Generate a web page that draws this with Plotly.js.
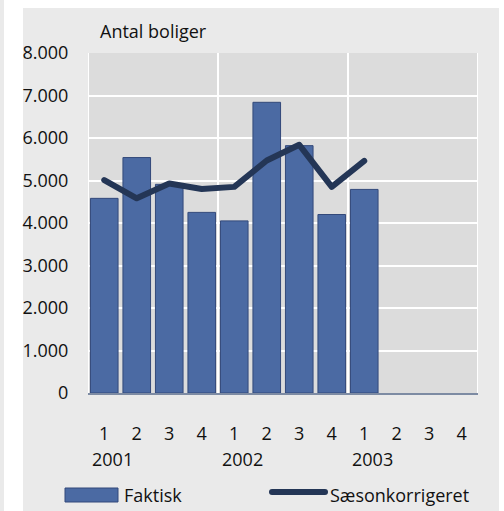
<!DOCTYPE html>
<html>
<head>
<meta charset="utf-8">
<script src="https://cdn.plot.ly/plotly-3.0.1.min.js"></script>
<style>
html,body{margin:0;padding:0;background:#fff;}
#chart{width:504px;height:511px;}
#chart .scatterlayer path.js-line{stroke-linejoin:round !important;stroke-linecap:round !important;}
#chart .legendline-shape{stroke-linecap:round !important;}
</style>
</head>
<body>
<div id="chart"></div>
<script>
// ---- data ----
const quarters = ['1','2','3','4','1','2','3','4','1','2','3','4'];
const years = ['2001','2002','2003'];
const faktisk = [4580, 5540, 4910, 4250, 4050, 6840, 5820, 4200, 4790];
const saesonkorrigeret = [5010, 4580, 4930, 4800, 4850, 5470, 5840, 4850, 5460];
const yTicks = [0, 1000, 2000, 3000, 4000, 5000, 6000, 7000, 8000];
const seriesNames = ['Faktisk', 'Sæsonkorrigeret'];
const yTitle = 'Antal boliger';

// ---- styles ----
const barColor = '#4b6aa3';
const barLine = '#33497a';
const lineColor = '#243656';
const panel = '#eaeaea';
const plotBg = '#dcdcdc';
const txt = '#111111';
const font = {family: '"Open Sans", Roboto, sans-serif', size: 18, color: txt};

const W = 504, H = 511;
const L = 88, R = 26, T = 53, B = 118;
const pw = W - L - R, ph = H - T - B;
const px = v => (v - L) / pw;
const py = v => (H - B - v) / ph;

const idx = quarters.map((q, i) => i);

const traces = [
  {type: 'bar', x: faktisk.map((v, i) => idx[i]), y: faktisk, name: seriesNames[0],
   marker: {color: barColor, line: {color: barLine, width: 1}}, showlegend: false, hoverinfo: 'skip'},
  {type: 'scatter', mode: 'lines', x: saesonkorrigeret.map((v, i) => idx[i]), y: saesonkorrigeret,
   name: seriesNames[1], line: {color: lineColor, width: 6}, showlegend: false, hoverinfo: 'skip'}
];

const shapes = [
  // white surroundings of the grey panel
  {type: 'rect', xref: 'paper', yref: 'paper', x0: px(4), x1: px(23), y0: py(H + 5), y1: py(-5), fillcolor: '#ffffff', line: {width: 0}, layer: 'below'},
  {type: 'rect', xref: 'paper', yref: 'paper', x0: px(4), x1: px(W + 5), y0: py(8), y1: py(-5), fillcolor: '#ffffff', line: {width: 0}, layer: 'below'},
  {type: 'rect', xref: 'paper', yref: 'paper', x0: px(499), x1: px(W + 5), y0: py(H + 5), y1: py(-5), fillcolor: '#ffffff', line: {width: 0}, layer: 'below'}
];
// vertical year separators / frame
[0, 4, 8, 12].forEach(k => {
  shapes.push({type: 'line', xref: 'x', yref: 'paper', x0: k - 0.5, x1: k - 0.5, y0: 0, y1: 1,
    line: {color: '#ffffff', width: 2}, layer: 'below'});
});
// legend
shapes.push({type: 'rect', xref: 'paper', yref: 'paper', x0: px(65), x1: px(118), y0: py(502), y1: py(488),
  fillcolor: barColor, line: {color: barLine, width: 1}});
shapes.push({type: 'line', xref: 'paper', yref: 'paper', x0: px(272), x1: px(325), y0: py(492), y1: py(492),
  line: {color: lineColor, width: 6}, name: 'legendline'});

const annotations = [
  {xref: 'paper', yref: 'paper', x: px(98), y: py(31), xanchor: 'left', yanchor: 'middle', text: yTitle, showarrow: false, font: font},
  {xref: 'paper', yref: 'paper', x: px(122), y: py(495), xanchor: 'left', yanchor: 'middle', text: seriesNames[0], showarrow: false, font: font},
  {xref: 'paper', yref: 'paper', x: px(328), y: py(495), xanchor: 'left', yanchor: 'middle', text: seriesNames[1], showarrow: false, font: font}
];
years.forEach((yr, j) => {
  annotations.push({xref: 'x', yref: 'paper', x: j * 4 + 0.25, y: py(459), xanchor: 'center', yanchor: 'middle',
    text: yr, showarrow: false, font: font});
});

const layout = {
  width: W, height: H,
  margin: {l: L, r: R, t: T, b: B, pad: 0},
  paper_bgcolor: panel,
  plot_bgcolor: plotBg,
  separators: ',.',
  font: font,
  bargap: 0.15,
  showlegend: false,
  xaxis: {
    type: 'linear', range: [-0.5, quarters.length - 0.5],
    tickmode: 'array', tickvals: idx, ticktext: quarters,
    showgrid: false, zeroline: false,
    showline: true, linecolor: '#7d8ba3', linewidth: 1.5,
    ticks: 'outside', ticklen: 24, tickcolor: 'rgba(0,0,0,0)',
    tickfont: font, fixedrange: true
  },
  yaxis: {
    range: [0, 8000], tickmode: 'array', tickvals: yTicks, tickformat: ',d',
    showgrid: true, gridcolor: '#ffffff', gridwidth: 2,
    zeroline: false, showline: false,
    ticks: 'outside', ticklen: 15, tickcolor: 'rgba(0,0,0,0)',
    tickfont: font, fixedrange: true
  },
  shapes: shapes,
  annotations: annotations
};

Plotly.newPlot('chart', traces, layout, {displayModeBar: false, staticPlot: true}).then(gd => {
  // rounded caps for the legend line sample
  const paths = gd.querySelectorAll('.shapelayer path');
  const last = paths[paths.length - 1];
  if (last) { last.style.strokeLinecap = 'round'; }
});
</script>
</body>
</html>
